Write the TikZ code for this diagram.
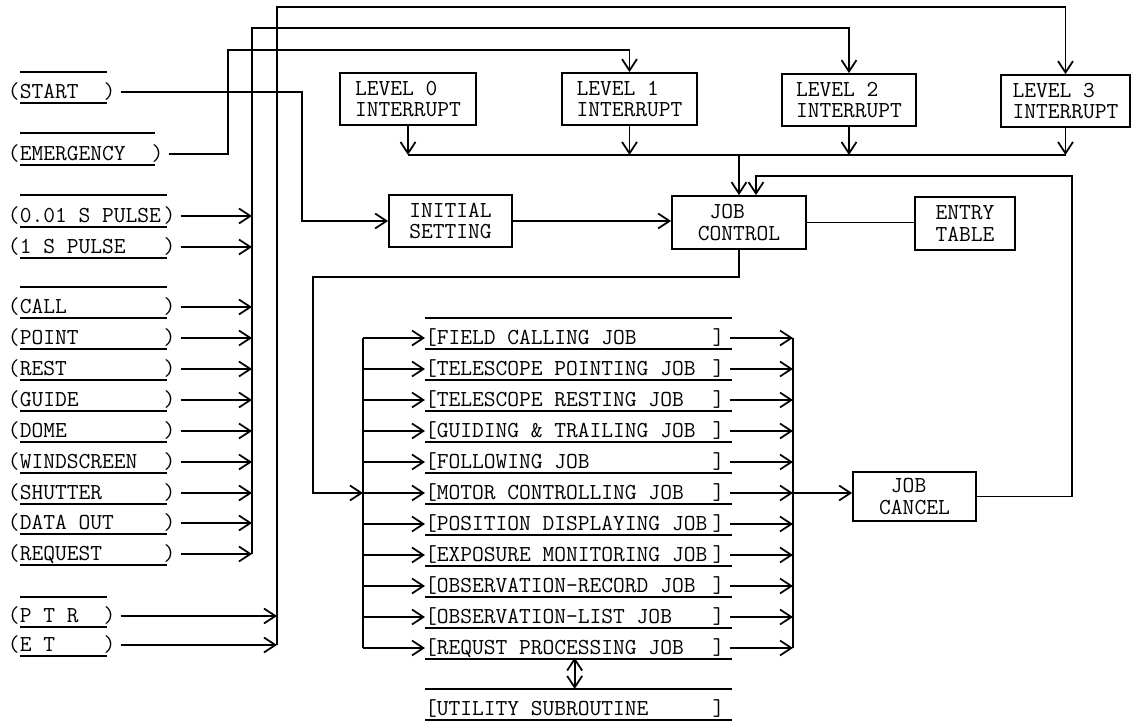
\documentclass[tikz,border=0pt]{standalone}
\usetikzlibrary{arrows.meta, calc}
\newlength\cw
\setlength\cw{6.825pt}
\newcommand\tw{\fontsize{13}{12}\selectfont\ttfamily}
\tikzset{
  wire/.style={line width=1pt},
  arr/.style={wire, -{Straight Barb[length=6.5pt, width=8.5pt]}},
  darr/.style={wire, {Straight Barb[length=6.5pt, width=8.5pt]}-{Straight Barb[length=6.5pt, width=8.5pt]}},
  ibox/.style={draw, line width=1pt, font=\tw, align=left, inner sep=0pt},
  sig/.style={font=\tw, anchor=west, inner sep=0pt, outer sep=0pt},
  lead/.style={shorten <=3pt},
}
\begin{document}
\begin{tikzpicture}[x=0.02cm, y=-0.02cm]
  \useasboundingbox (0,0) rectangle (1133,722);

  %% Interrupt levels
  \node[ibox, minimum width=2.72cm, minimum height=1.04cm] (l0) at (408,99) {LEVEL 0\\INTERRUPT};
  \node[ibox, minimum width=2.70cm, minimum height=1.04cm] (l1) at (629.5,99) {LEVEL 1\\INTERRUPT};
  \node[ibox, minimum width=2.68cm, minimum height=1.04cm] (l2) at (849,100) {LEVEL 2\\INTERRUPT};
  \node[ibox, minimum width=2.58cm, minimum height=1.04cm] (l3) at (1065.5,101) {LEVEL 3\\INTERRUPT};

  %% Control boxes
  \node[ibox, minimum width=2.46cm, minimum height=1.04cm] (init) at (450.5,221) {INITIAL\\SETTING};
  \node[ibox, minimum width=2.68cm, minimum height=1.06cm] (jc) at (739,222.5) {~JOB\\CONTROL};
  \node[ibox, minimum width=2.00cm, minimum height=1.06cm] (entry) at (965,223.5) {ENTRY\\TABLE};
  \node[ibox, minimum width=2.46cm, minimum height=0.98cm] (cancel) at (914.5,496.5) {~JOB\\CANCEL};

  %% Turning points and buses
  \coordinate (bA) at (252,28);
  \coordinate (bB) at (277,7);
  \coordinate (eturn) at (228,50);
  \coordinate (stx) at (302,0);
  \coordinate (ib) at (0,155);
  \coordinate (ret) at (1072,176);
  \coordinate (jturn) at (313,277);
  \coordinate (jbL) at (363,0);
  \coordinate (jbR) at (793,0);
  \coordinate (utop) at (425,689);

  %% Input signals
  \foreach \nm/\yy/\txt/\nc in {
    start/92/START/7, emerg/154/EMERGENCY/11,
    p001/216/0.01 S PULSE/12, p1/247/1 S PULSE/12,
    call/307/CALL/12, point/338/POINT/12, rest/369/REST/12,
    guide/400/GUIDE/12, dome/431/DOME/12, wind/462/WINDSCREEN/12,
    shut/493/SHUTTER/12, dout/523/DATA OUT/12, req/554/REQUEST/12,
    ptr/616/P T R/7, et/645/E T/7}{
    \node[sig] (\nm) at (8,\yy) {(\makebox[\nc\cw][l]{\txt})};
    \draw[wire] (20,\yy+11) -- ({23+12.04*\nc},\yy+11);
  }
  \foreach \yy/\nc in {72/7, 133/11, 195/12, 287/12, 597/7}
    \draw[wire] (20,\yy) -- ({23+12.04*\nc},\yy);

  \foreach \nm in {p001,p1,call,point,rest,guide,dome,wind,shut,dout,req}
    \draw[arr, lead] (\nm.east) -- (\nm.east -| bA);
  \foreach \nm in {ptr,et}
    \draw[arr, lead] (\nm.east) -- (\nm.east -| bB);

  \draw[arr] (bA |- req.east) -- (bA) -| (l2.north);
  \draw[arr] (bB |- et.east) -- (bB) -| (l3.north);
  \draw[arr, lead] (emerg.east) -| (eturn) -| (l1.north);
  \draw[arr, lead] (start.east) -| (stx |- init.west) -- (init.west);

  %% Interrupts to job control
  \foreach \nm in {l0,l1,l2,l3}
    \draw[arr] (\nm.south) -- (\nm.south |- ib);
  \draw[wire] (l0.south |- ib) -- (l3.south |- ib);
  \draw[arr] (jc.north |- ib) -- (jc.north);
  \draw[arr] (init.east) -- (init.east -| jc.west);
  \draw[wire] (jc.east) -- (jc.east -| entry.west);

  %% Jobs
  \draw[wire] (425,318) -- (732,318);
  \foreach \nm/\yy/\txt in {
    field/338/FIELD CALLING JOB, tpoint/369/TELESCOPE POINTING JOB,
    trest/400/TELESCOPE RESTING JOB, guiding/431/GUIDING \& TRAILING JOB,
    follow/462/FOLLOWING JOB, motor/493/MOTOR CONTROLLING JOB,
    posdisp/524/POSITION DISPLAYING JOB, expmon/555/EXPOSURE MONITORING JOB,
    obsrec/586/OBSERVATION-RECORD JOB, obslist/617/OBSERVATION-LIST JOB,
    reqproc/648/REQUST PROCESSING JOB}{
    \node[sig] (\nm) at (425,\yy) {[\makebox[23\cw][l]{\txt}]};
    \draw[wire] (425,\yy+11) -- (732,\yy+11);
    \draw[arr] (jbL |- \nm.west) -- (\nm.west);
    \draw[arr, lead] (\nm.east) -- (\nm.east -| jbR);
  }
  \draw[wire] (jbL |- field.west) -- (jbL |- reqproc.west);
  \draw[wire] (jbR |- field.east) -- (jbR |- reqproc.east);
  \draw[arr] (jc.south) |- (jturn) |- (jbL |- motor.west);
  \draw[arr] (jbR |- motor.east) -- (motor.east -| cancel.west);
  \draw[arr] (cancel.east) -| (ret) -| ([xshift=0.34cm]jc.north);

  %% Utility
  \node[sig] (util) at (425,709) {[\makebox[23\cw][l]{UTILITY SUBROUTINE}]};
  \draw[wire] (utop) -- ++(307,0);
  \draw[wire] (425,720) -- (732,720);
  \draw[darr] (reqproc.south) -- (reqproc.south |- utop);
\end{tikzpicture}
\end{document}
